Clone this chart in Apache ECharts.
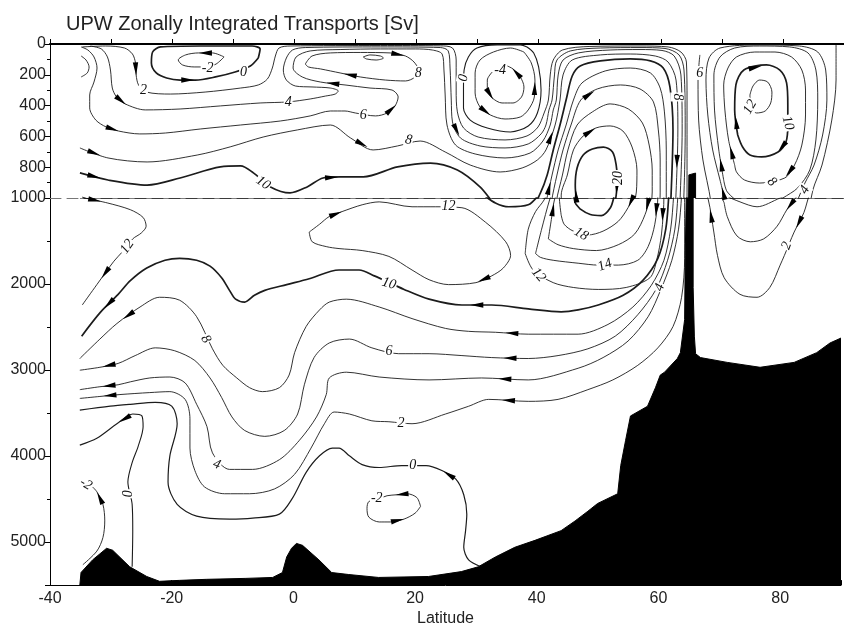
<!DOCTYPE html>
<html><head><meta charset="utf-8">
<script src="https://cdn.jsdelivr.net/npm/echarts@6.0.0/dist/echarts.min.js"></script>
<style>html,body{margin:0;padding:0;background:#fff;}#chart{width:844px;height:632px;}</style>
</head><body><div id="chart"></div>
<script>
// ---------- axes ----------
const latTickValues = [-40,-20,0,20,40,60,80];
const upperDepthRange = [0,1000];
const lowerDepthRange = [1000,5500];

// ---------- bathymetry (latitude, depth m) ----------
const bathyLat = [-35.1,-34.9,-33.0,-30.7,-29.7,-26.9,-24.1,-22.0,-18.7,-14.3,-7.8,-3.4,-1.8,-1.1,-0.3,0.5,1.5,4.2,6.3,9.1,14.0,22.2,27.6,30.4,33.2,36.4,39.7,44.0,46.3,48.4,50.0,53.3,53.8,54.6,55.4,58.2,59.5,60.3,61.0,63.1,63.6,64.3,64.4,64.6,65.7,65.7,65.9,66.1,66.9,71.3,76.7,82.3,86.0,88.2,90];
const bathyDepth = [5500,5353,5207,5072,5095,5287,5400,5456,5445,5433,5422,5411,5354,5173,5072,5015,5038,5207,5354,5377,5411,5400,5343,5287,5173,5060,4980,4867,4754,4641,4551,4438,4110,3817,3534,3421,3206,3058,3025,2866,2798,2414,1667,850,838,2040,2606,2810,2855,2911,2968,2911,2798,2685,2628];

// ---------- streamlines [latitude, depth] ----------
const psi_m2_sw = [[-11.5,84],[-13.4,58],[-15.7,58],[-17.8,71],[-19.0,104],[-18.3,136],[-16.4,149],[-14.4,149],[-12.8,130],[-11.5,84]];
const psi_0_sw = [[-5.9,91],[-5.6,32],[-6.9,13],[-15.4,13],[-21.9,19],[-23.2,52],[-23.4,123],[-22.6,188],[-20.9,221],[-18.7,234],[-16.2,234],[-12.9,214],[-9.7,182],[-7.2,143],[-5.9,91]];
const psi_hook_w = [[-34.9,78],[-34.1,104],[-33.6,149],[-33.9,188],[-34.9,214]];
const psi_2 = [[-34.7,19],[-30.9,13],[-27.8,26],[-26.5,65],[-26.0,123],[-25.9,201],[-25.5,266],[-24.2,312],[-20.3,325],[-14.6,312],[-8.8,286],[-5.9,266],[-4.4,227],
  [-3.6,156],[-3.1,78],[-2.5,26],[-0.7,13],[14.1,10],[23.9,12],[25.9,26],[26.5,104],[26.5,299],[26.7,441],[27.7,545],[30.1,604],
  [34.5,623],[38.1,597],[39.9,539],[40.9,448],[41.6,364],[41.9,201],[42.4,104],[43.9,39],[48.4,16],[56.6,13],[61.2,19],[63.3,52],[64.2,117],[64.3,364],[64.3,967],
  [64.3,1701],[63.8,2154],[62.4,2493],[59.9,2742],[56.6,2945],[52.5,3115],[48.4,3228],[43.5,3341],[38.6,3364],[32.1,3341],[28.8,3421],[25.0,3511],[19.5,3624],[15.7,3601],[12.9,3590],[9.2,3511],[6.7,3488],[5.1,3624],[2.9,3907],[0.2,4212],[-3.1,4382],[-7.2,4438],[-11.3,4438],[-14.6,4359],[-16.2,4167],[-17.0,3907],[-17.0,3567],[-17.8,3341],[-20.3,3251],[-23.6,3262],[-28.5,3285],[-31.8,3307],[-35.1,3330]];
const psi_4 = [[-33.4,13],[-31.6,32],[-30.6,84],[-30.1,169],[-29.8,286],[-29.1,344],[-27.7,389],[-24.4,428],[-18.7,422],[-12.1,402],[-5.6,383],[-1.0,376],[2.6,357],[5.1,338],[6.7,325],[7.2,305],[5.9,286],[2.9,279],[0.2,273],[-1.3,234],[-1.8,169],[-1.3,91],[-0.3,39],[1.8,23],[14.1,19],[23.9,23],[25.2,45],[25.5,156],[25.7,364],[25.9,506],[27.2,610],[30.4,662],
  [34.5,675],[38.3,649],[40.4,584],[41.2,526],[41.7,428],[42.2,364],[42.6,201],[43.0,104],[45.2,45],[50.1,26],[56.6,23],[60.7,29],[63.0,71],[63.8,169],[64.0,558],[63.8,967],
  [63.3,1362],[62.2,1724],[60.4,2063],[58.3,2380],[55.0,2663],[50.9,2855],[46.8,2979],[38.6,3115],[30.9,3092],[22.3,3115],[14.1,3081],[8.7,3025],[5.9,3092],[5.4,3285],[3.8,3545],[1.0,3816],[-2.3,4042],[-6.7,4155],[-10.5,4155],[-13.3,3963],[-14.2,3658],[-15.9,3398],[-17.8,3149],[-20.3,3081],[-23.6,3092],[-26.8,3137],[-28.8,3171],[-31.8,3194],[-35.1,3228]];
const psi_6 = [[-34.9,19],[-33.8,39],[-32.8,84],[-32.3,156],[-32.8,247],[-33.5,331],[-33.5,415],[-32.5,494],[-30.8,539],[-28.8,565],[-25.3,584],[-21.1,578],[-15.4,552],[-8.8,526],[-2.3,500],[2.6,467],[5.9,435],[8.3,435],[10.0,448],[13.3,467],[15.2,448],[16.5,402],[17.0,344],[16.0,299],[12.4,286],[8.3,266],[4.3,247],[1.3,214],[-0.2,156],[0.3,84],[2.6,45],[7.5,36],[14.1,32],[19.8,32],[22.6,39],[24.2,65],[24.5,169],[24.7,331],[25.0,526],[26.4,656],[29.6,714],
  [34.5,740],[38.6,708],[40.7,630],[41.9,526],[42.4,428],[42.9,364],[43.2,201],[44.0,104],[46.5,58],[51.7,39],[56.6,36],[60.2,42],[62.2,78],[63.3,201],[63.5,558],[63.2,967],
  [62.7,1362],[61.5,1724],[59.6,2063],[56.6,2357],[52.9,2606],[48.4,2753],[43.5,2832],[38.6,2866],[32.6,2855],[27.7,2832],[22.3,2810],[17.3,2810],[12.9,2742],[9.2,2640],[5.9,2685],[3.4,2855],[1.8,3171],[0.7,3511],[-1.5,3703],[-4.7,3771],[-8.0,3703],[-10.1,3545],[-11.8,3318],[-13.7,3092],[-16.2,2889],[-19.5,2776],[-22.7,2742],[-26.0,2832],[-28.8,2923],[-31.8,2968],[-35.1,3002]];
const psi_8 = [[-35.1,675],[-30.5,740],[-24.1,766],[-15.9,721],[-10.5,668],[-5.1,604],[0.5,558],[5.9,526],[9.2,610],[12.9,688],[16.9,662],[20.6,630],[24.7,701],[28.8,786],[33.7,831],[37.3,805],[39.8,753],[41.2,688],[42.7,526],[43.5,364],[44.0,201],[45.5,104],[50.1,71],[55.0,65],[59.1,78],[61.2,117],[62.5,234],[62.8,558],[62.5,967],
  [62.0,1362],[60.9,1724],[58.8,2018],[55.8,2267],[51.7,2470],[46.8,2583],[38.6,2583],[33.2,2561],[28.8,2550],[25.0,2516],[19.5,2402],[14.1,2267],[8.7,2176],[5.9,2210],[4.3,2301],[2.1,2493],[0.2,2798],[-0.7,3058],[-2.3,3205],[-5.1,3251],[-7.2,3205],[-9.3,3092],[-11.6,2945],[-13.3,2753],[-15.9,2380],[-18.7,2188],[-22.0,2154],[-25.2,2267],[-29.0,2459],[-31.8,2640],[-35.1,2866]];
const psi_10 = [[-35.1,837],[-30.5,883],[-24.1,916],[-18.7,870],[-12.1,798],[-8.8,792],[-6.7,837],[-3.9,928],[-0.7,967],[2.1,928],[4.7,870],[7.5,863],[11.3,863],[16.9,798],[22.3,773],[26.7,818],
  [30.4,928],[33.2,1057],[35.4,1102],[38.6,1079],[40.3,967],[41.4,851],[42.4,688],[43.5,526],[44.5,364],[45.5,208],[46.8,143],[50.1,110],[55.0,97],[58.3,110],[60.4,156],[61.5,279],[62.0,558],[61.7,967],
  [61.2,1362],[59.9,1701],[57.4,1961],[54.2,2131],[50.1,2244],[46.8,2301],[44.0,2323],[38.6,2289],[32.6,2244],[27.7,2244],[22.3,2176],[18.2,2063],[13.3,1905],[10.8,1837],[7.5,1837],[2.6,1939],[-1.1,2007],[-4.7,2074],[-6.4,2131],[-8.0,2210],[-9.5,2176],[-10.5,2074],[-11.8,1927],[-13.7,1792],[-15.9,1724],[-18.7,1701],[-21.1,1724],[-24.1,1814],[-26.8,1961],[-28.8,2120],[-31.8,2335],[-34.8,2606]];
const trop_small = [[11.3,84],[12.4,71],[14.1,78],[14.6,91],[13.4,104],[11.8,97],[11.3,84]];
const trop_8 = [[1.8,130],[2.9,78],[5.9,58],[10.8,55],[15.7,58],[18.2,78],[19.6,117],[20.3,169],[19.8,214],[18.2,240],[14.9,234],[10.8,214],[7.5,188],[4.3,162],[2.3,149],[1.8,130]];
const psi_12_west = [[-34.7,994],[-30.6,1057],[-26.8,1136],[-24.7,1226],[-24.2,1328],[-25.0,1407],[-26.4,1475],[-28.2,1633],[-29.5,1735],[-32.3,2007],[-34.7,2244]];
const psi_12_mid = [[2.6,1396],[4.3,1305],[5.9,1215],[8.0,1158],[11.3,1079],[14.1,1045],[19.5,1102],[23.4,1102],[27.7,1113],[31.6,1283],[34.9,1509],[35.7,1667],[34.5,1814],[32.6,1905],[30.0,1984],[25.5,2007],[22.3,1950],[19.5,1837],[15.7,1679],[11.3,1611],[7.5,1588],[5.4,1565],[3.1,1509],[2.6,1396]];
const psi_m4 = [[32.4,182],[31.6,234],[31.6,299],[32.4,350],[34.0,383],[35.8,383],[37.2,344],[37.6,279],[37.0,214],[35.8,162],[34.9,143]];
const psi_m2_sub = [[37.6,52],[35.4,26],[32.6,52],[30.4,104],[29.6,188],[29.6,318],[30.4,409],[32.1,461],[34.5,487],[37.0,474],[38.3,428],[39.3,344],[39.4,234],[38.8,123],[37.6,52]];
const psi_0_sub = [[38.1,19],[37.0,6],[33.2,6],[29.9,26],[28.5,84],[27.8,169],[27.7,286],[27.7,415],[28.8,494],[31.6,545],[35.4,571],[38.3,532],[39.8,448],[40.4,299],[40.0,149],[39.2,58],[38.1,19]];
const psi_20 = [[46.3,1057],[46.0,916],[46.3,805],[47.3,721],[48.8,682],[50.6,669],[52.1,701],[52.7,786],[52.9,883],[52.7,981],[52.1,1113],[50.6,1204],[48.8,1192],[47.3,1136],[46.3,1057]];
const psi_18 = [[44.0,1192],[43.7,981],[44.7,851],[45.7,688],[47.3,597],[49.4,545],[51.7,532],[53.8,565],[55.3,669],[56.1,818],[56.0,961],[55.0,1113],[53.4,1271],[50.9,1385],[48.4,1430],[46.0,1385],[44.5,1305],[44.0,1192]];
const psi_16 = [[41.9,1475],[42.4,1249],[42.9,1023],[43.9,851],[44.8,688],[46.3,526],[48.8,441],[51.7,389],[54.7,422],[57.0,513],[58.1,656],[58.6,818],[58.6,961],[57.8,1192],[56.1,1418],[53.4,1543],[49.8,1611],[46.0,1588],[43.5,1543],[41.9,1475]];
const psi_14 = [[39.8,1645],[40.8,1362],[42.1,1023],[43.0,851],[44.0,688],[45.3,526],[46.9,364],[49.6,292],[53.4,266],[56.6,292],[58.8,376],[59.6,558],[59.9,753],[59.9,967],[59.4,1305],[58.3,1565],[56.6,1724],[53.4,1780],[50.1,1780],[46.8,1758],[42.7,1724],[40.6,1690],[39.8,1645]];
const psi_12_main = [[38.1,1645],[38.6,1362],[39.8,1158],[41.2,1023],[42.2,851],[43.2,688],[44.5,526],[45.7,364],[47.1,253],[50.9,175],[55.0,156],[58.3,188],[59.9,286],[60.6,441],[60.9,688],[60.9,967],[60.5,1418],[59.7,1724],[58.6,1927],[54.7,2040],[50.1,2063],[46.0,2040],[42.7,1984],[39.4,1837],[38.1,1645]];
const arc_12 = [[74.6,331],[75.1,273],[76.2,234],[77.5,247],[78.2,312],[78.0,383],[77.1,435],[75.7,448],[74.7,402],[74.6,331]];
const arc_10 = [[72.6,591],[72.1,429],[72.3,266],[73.6,169],[77.3,136],[79.5,169],[80.6,253],[80.8,396],[80.8,526],[80.5,636],[79.2,701],[76.5,733],[74.6,721],[73.4,669],[72.6,591]];
const arc_8 = [[72.1,786],[71.1,623],[70.5,429],[70.3,266],[71.0,156],[72.4,84],[75.4,52],[78.7,52],[81.4,84],[83.1,169],[83.7,299],[83.7,461],[83.1,656],[81.9,786],[80.3,870],[76.2,903],[73.7,883],[72.4,831],[72.1,786]];
const arc_6 = [[70.3,883],[69.5,688],[68.8,429],[68.7,201],[69.7,84],[72.1,26],[76.2,13],[81.1,19],[84.1,58],[85.4,169],[85.7,364],[85.4,623],[84.4,818],[82.4,935],[80.0,1000],[76.2,1102],[73.4,1045],[70.9,961],[70.3,883]];
const arc_4 = [[70.8,1057],[69.7,883],[68.5,688],[67.7,461],[67.4,234],[67.9,91],[69.7,26],[76.2,6],[82.7,13],[85.7,52],[87.0,169],[87.2,364],[86.5,591],[85.1,786],[83.6,903],[82.3,1023],[81.1,1136],[79.5,1328],[77.3,1475],[75.1,1509],[72.9,1441],[71.3,1215],[70.8,1057]];
const arc_2 = [[88.7,6],[88.7,234],[88.0,494],[86.4,786],[84.9,948],[83.9,1170],[82.3,1396],[80.7,1667],[80.0,1780],[78.3,2040],[76.2,2154],[73.4,2120],[70.8,1927],[69.7,1667],[69.1,1396],[68.2,1023],[66.9,753],[66.2,494],[66.1,234],[66.4,71]];
const psi_0_deep = [[30.8,5287],[28.8,5207],[28.0,5060],[28.3,4867],[28.5,4675],[28.0,4450],[26.7,4269],[24.4,4167],[21.8,4110],[17.8,4110],[14.1,4133],[11.3,4099],[9.2,3997],[7.5,3907],[6.4,3907],[4.3,3997],[2.1,4189],[-0.2,4495],[-2.3,4675],[-6.7,4721],[-10.5,4732],[-15.9,4698],[-19.1,4562],[-20.6,4302],[-20.3,3997],[-19.1,3624],[-20.0,3420],[-22.7,3375],[-26.8,3398],[-30.1,3420],[-35.1,3466]];
const psi_0_hook = [[-26.5,5287],[-26.4,4867],[-26.5,4562],[-27.2,4302],[-26.5,4076],[-25.5,3884],[-24.7,3658],[-24.9,3533],[-26.4,3511],[-29.0,3624],[-32.3,3793],[-35.1,3873]];
const psi_m2_deep_w = [[-34.6,5263],[-32.3,5105],[-31.3,4947],[-31.0,4754],[-31.3,4562],[-32.3,4415],[-33.0,4359]];
const psi_m2_deep_loop = [[20.9,4585],[20.3,4483],[18.7,4438],[17.0,4450],[15.4,4461],[14.1,4495],[12.4,4529],[12.1,4608],[12.4,4710],[14.1,4766],[16.0,4766],[18.2,4732],[20.0,4664],[20.9,4585]];

const contours = [
  {name:'psi_m2_sw', pts:psi_m2_sw, w:0.9},
  {name:'psi_0_sw', pts:psi_0_sw, w:1.7},
  {name:'psi_hook_w', pts:psi_hook_w, w:0.9},
  {name:'psi_2', pts:psi_2, w:0.9},
  {name:'psi_4', pts:psi_4, w:0.9},
  {name:'psi_6', pts:psi_6, w:0.9},
  {name:'psi_8', pts:psi_8, w:0.9},
  {name:'psi_10', pts:psi_10, w:1.7},
  {name:'trop_small', pts:trop_small, w:0.9},
  {name:'trop_8', pts:trop_8, w:0.9},
  {name:'psi_12_west', pts:psi_12_west, w:0.9},
  {name:'psi_12_mid', pts:psi_12_mid, w:0.9},
  {name:'psi_m4', pts:psi_m4, w:0.9},
  {name:'psi_m2_sub', pts:psi_m2_sub, w:0.9},
  {name:'psi_0_sub', pts:psi_0_sub, w:1.1},
  {name:'psi_20', pts:psi_20, w:1.7},
  {name:'psi_18', pts:psi_18, w:0.9},
  {name:'psi_16', pts:psi_16, w:0.9},
  {name:'psi_14', pts:psi_14, w:0.9},
  {name:'psi_12_main', pts:psi_12_main, w:0.9},
  {name:'arc_12', pts:arc_12, w:0.9},
  {name:'arc_10', pts:arc_10, w:1.7},
  {name:'arc_8', pts:arc_8, w:0.9},
  {name:'arc_6', pts:arc_6, w:0.9},
  {name:'arc_4', pts:arc_4, w:0.9},
  {name:'arc_2', pts:arc_2, w:0.9},
  {name:'psi_0_deep', pts:psi_0_deep, w:1.2},
  {name:'psi_0_hook', pts:psi_0_hook, w:1.1},
  {name:'psi_m2_deep_w', pts:psi_m2_deep_w, w:0.9},
  {name:'psi_m2_deep_loop', pts:psi_m2_deep_loop, w:0.9}
];

// arrows: [streamline name, segment index] -> arrow on that segment, pointing along it
const arrowRefs = [
  ['psi_m2_sw',1],['psi_0_sw',9],
  ['psi_2',4],['psi_2',48],['psi_2',70],
  ['psi_4',5],['psi_4',29],['psi_4',55],['psi_4',74],
  ['psi_6',8],['psi_6',20],['psi_6',25],['psi_6',64],['psi_6',85],
  ['psi_8',0],['psi_8',8],['psi_8',17],['psi_8',27],['psi_8',35],['psi_8',56],
  ['psi_10',0],['psi_10',10],['psi_10',42],['psi_10',63],
  ['psi_12_west',0],['psi_12_west',8],
  ['psi_12_mid',2],['psi_12_mid',13],
  ['psi_m4',2],['psi_m4',8],['psi_m2_sub',6],['psi_m2_sub',11],
  ['psi_20',0],['psi_20',8],['psi_18',4],['psi_18',10],['psi_16',1],['psi_16',12],['psi_14',6],['psi_14',13],['psi_12_main',3],['psi_12_main',15],
  ['arc_10',0],['arc_10',3],['arc_10',9],['arc_8',0],['arc_8',13],['arc_6',0],['arc_4',0],['arc_4',15],['arc_2',5],['arc_2',14],
  ['psi_0_deep',6],['psi_0_hook',8],['psi_m2_deep_w',4],['psi_m2_deep_loop',2],['psi_m2_deep_loop',10],
  ['trop_8',4],['trop_8',11]
];

// contour labels
const labelLat   = [-14.2,-8.3,-24.7,-1.0,-5.1,20.3,11.3,18.7,27.7,33.7,-27.3,25.5,15.7,-14.4,15.7,-12.6,17.7,19.6,13.7,-27.2,-34.1,40.3,51.2,47.3,53.0,60.2,62.7,66.4,74.6,80.8,78.2,83.6,81.1];
const labelDepth = [156,182,299,376,902,188,461,623,221,169,1565,1102,1995,2640,2787,4098,3624,4110,4495,4438,4325,1894,1780,1419,870,2040,344,188,409,513,896,948,1554];
const labelText  = ['-2','0','2','4','10','8','6','8','0','-4','12','12','10','8','6','4','2','0','-2','0','-2','12','14','18','20','4','8','6','12','10','8','4','2'];
const labelRot   = [0,0,0,0,-35,0,0,-10,80,0,55,0,-15,-60,0,-20,0,0,0,90,-30,-50,20,-30,90,70,-90,0,60,-75,-45,60,70];

// ---------- build ----------
const byName = {}; contours.forEach(c => byName[c.name] = c);
const LINE = '#1c1c1c';
const series = [];
const gridX = [0, 2];
[0,1].forEach(g => {
  series.push({
    type:'line', xAxisIndex:gridX[g], yAxisIndex:g, symbol:'none', clip:true, silent:true, z:5,
    data: bathyLat.map((v,i)=>[v,bathyDepth[i]]),
    lineStyle:{color:'#000', width:1},
    areaStyle:{color:'#000', opacity:1, origin:'end'},
    animation:false
  });
  contours.forEach(c => {
    series.push({
      type:'line', xAxisIndex:gridX[g], yAxisIndex:g, symbol:'none', clip:true, silent:true, z:3,
      smooth:0.3, data:c.pts, animation:false,
      lineStyle:{color:LINE, width:c.w}
    });
  });
  const arrowData = arrowRefs.map(([n,i]) => {
    const p = byName[n].pts; return [p[i][0], p[i][1], p[i+1][0], p[i+1][1]];
  }).filter(a => g === 0 ? (a[1]+a[3])/2 <= 1000 : (a[1]+a[3])/2 > 1000);
  series.push({
    type:'custom', xAxisIndex:gridX[g], yAxisIndex:g, silent:true, z:6, animation:false,
    data: arrowData,
    encode:{x:[0,2], y:[1,3]},
    renderItem:(params, api) => {
      const a = api.coord([api.value(0), api.value(1)]);
      const b = api.coord([api.value(2), api.value(3)]);
      const mx=(a[0]+b[0])/2, my=(a[1]+b[1])/2;
      const ang=Math.atan2(b[1]-a[1], b[0]-a[0]);
      const c=Math.cos(ang), s=Math.sin(ang), L=6.5, W=2.7;
      return {type:'polygon', shape:{points:[[mx+c*L,my+s*L],[mx-c*L-s*W,my-s*L+c*W],[mx-c*L+s*W,my-s*L-c*W]]}, style:{fill:'#000'}};
    }
  });
  const lab = labelLat.map((v,i)=>[v,labelDepth[i],i]).filter(d => g===0 ? d[1]<=1000 : d[1]>1000);
  series.push({
    type:'custom', xAxisIndex:gridX[g], yAxisIndex:g, silent:true, z:8, animation:false,
    data: lab, encode:{x:0, y:1},
    renderItem:(params, api) => {
      const p = api.coord([api.value(0), api.value(1)]);
      const i = api.value(2);
      return {type:'text', x:p[0], y:p[1], rotation: labelRot[i]*Math.PI/180,
        style:{text:labelText[i], fill:'#111', font:'italic 14px "Liberation Serif"', align:'center', verticalAlign:'middle', backgroundColor:'#fff', padding:[0,1]}};
    }
  });
});

const axisFont = {fontFamily:'"Liberation Sans", Arial, sans-serif', fontSize:16, color:'#222'};
const option = {
  backgroundColor:'#fff',
  animation:false,
  title:{text:'UPW Zonally Integrated Transports [Sv]', left:61, top:9,
    textStyle:{fontFamily:'"Liberation Sans", Arial, sans-serif', fontSize:20, fontWeight:'normal', color:'#222'}},
  grid:[
    {left:50, top:44, width:794, height:154},
    {left:50, top:198, width:794, height:398}
  ],
  xAxis:[
    {gridIndex:0, type:'value', position:'top', min:-40, max:90, interval:10,
     axisLine:{show:true, onZero:false, lineStyle:{color:'#000', width:2}}, axisTick:{show:true, length:5, lineStyle:{color:'#000'}},
     axisLabel:{show:false}, splitLine:{show:false}},
    {gridIndex:0, type:'value', position:'bottom', min:-40, max:90, interval:10,
     axisLine:{show:true, onZero:false, lineStyle:{color:'#777', width:1, type:[11,6]}}, axisTick:{show:false},
     axisLabel:{show:false}, splitLine:{show:false}},
    {gridIndex:1, type:'value', position:'bottom', min:-40, max:90, interval:10,
     axisLine:{show:true, onZero:false, lineStyle:{color:'#000', width:1}}, axisTick:{show:true, inside:true, length:5, lineStyle:{color:'#000'}},
     axisLabel:Object.assign({margin:5, formatter:v => latTickValues.includes(v) ? String(v) : ''}, axisFont),
     name:'Latitude', nameLocation:'middle', nameGap:24, nameTextStyle:axisFont, splitLine:{show:false}}
  ],
  yAxis:[
    {gridIndex:0, type:'value', inverse:true, min:upperDepthRange[0], max:upperDepthRange[1], interval:200,
     axisLine:{show:true, onZero:false, lineStyle:{color:'#000'}}, axisTick:{show:true, length:5, lineStyle:{color:'#000'}},
     minorTick:{show:true, splitNumber:2, length:3, lineStyle:{color:'#000'}},
     axisLabel:Object.assign({margin:4, formatter:v => String(v)}, axisFont), splitLine:{show:false}},
    {gridIndex:1, type:'value', inverse:true, min:lowerDepthRange[0], max:lowerDepthRange[1], interval:1000,
     axisLine:{show:true, onZero:false, lineStyle:{color:'#000'}}, axisTick:{show:true, length:5, lineStyle:{color:'#000'}},
     minorTick:{show:true, splitNumber:2, length:3, lineStyle:{color:'#000'}},
     axisLabel:Object.assign({margin:4, showMinLabel:false, showMaxLabel:false, formatter:v => String(v)}, axisFont), splitLine:{show:false}}
  ],
  series
};
const chart = echarts.init(document.getElementById('chart'), null, {renderer:'canvas'});
chart.setOption(option);
</script>
</body></html>
